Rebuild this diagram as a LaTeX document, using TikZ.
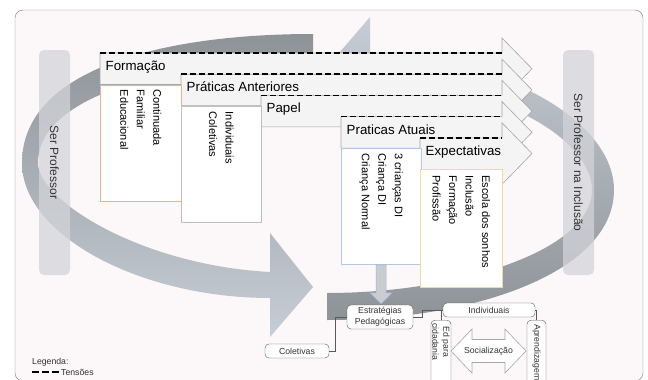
\documentclass[tikz,border=0pt]{standalone}
\usepackage{fontspec}
\setmainfont{Liberation Sans}
\usetikzlibrary{calc}

\definecolor{framefill}{HTML}{FCF7F8}
\definecolor{framegray}{HTML}{7F7F7F}
\definecolor{ringdark}{HTML}{8E9398}
\definecolor{ringmid}{HTML}{B2B8C0}
\definecolor{ringblue}{HTML}{C6CDD6}
\definecolor{sidegray}{HTML}{D3D4D8}
\definecolor{sidetext}{HTML}{333333}
\definecolor{arrowfill}{HTML}{F4F4F4}
\definecolor{arrowline}{HTML}{A6A6A6}
\definecolor{salmon}{HTML}{F4B183}
\definecolor{bodygray}{HTML}{BFBFBF}
\definecolor{bodyblue}{HTML}{B4C7E7}
\definecolor{bodytan}{HTML}{EFDAA4}
\definecolor{downfill}{HTML}{C9CDD2}
\definecolor{downline}{HTML}{9CB3D9}
\definecolor{linkgray}{HTML}{5A5A5A}

\begin{document}
\begin{tikzpicture}
    [x=1pt,y=-1pt,
     tensline/.style={black,line width=1.6pt,dash pattern=on 6pt off 3pt},
     stackarrow/.style={fill=arrowfill,draw=arrowline,line width=0.6pt},
     headtext/.style={anchor=base west,inner sep=0pt,font=\fontsize{13.3}{16}\selectfont},
     bodybox/.style={fill=white,line width=0.8pt,anchor=north west,inner sep=0pt},
     bodytext/.style={rotate=-90,anchor=west,align=left,inner sep=0pt,font=\fontsize{11}{16.5}\selectfont},
     sidebox/.style={rounded corners=5pt,fill=sidegray,fill opacity=0.75,text opacity=1,rotate=-90,
       minimum width=225pt,minimum height=31pt,font=\fontsize{12}{14}\selectfont,text=sidetext},
     smallbox/.style={draw=linkgray,fill=white,rounded corners=4pt,inner sep=0pt,align=center,
       text=black!80,font=\fontsize{8.7}{11}\selectfont},
     smalltext/.style={inner sep=0pt,text=black!80,font=\fontsize{8.7}{11}\selectfont},
     link/.style={draw=linkgray,line width=0.8pt}]
    \useasboundingbox (0,0) rectangle (648,380);
    \clip (0,0) rectangle (648,380);
    \draw[draw=framegray,fill=framefill,rounded corners=8pt] (15,10) rectangle (643,381);
    \shade[top color=ringdark,middle color=ringmid,bottom color=ringblue]
      (313,34) .. controls (160,34) and (22,70) .. (22,163)
      .. controls (22,235) and (140,298) .. (270,298)
      -- (270,337) -- (313,287) -- (270,233) -- (270,272)
      .. controls (140,265) and (38,200) .. (38,163)
      .. controls (38,95) and (170,61) .. (313,61) -- cycle;
    \shade[top color=ringblue,middle color=ringmid,bottom color=ringdark]
      (327,320) .. controls (480,320) and (614,270) .. (614,190)
      .. controls (614,120) and (500,56) .. (370,56)
      -- (370,17) -- (327,67) -- (370,121) -- (370,82)
      .. controls (500,82) and (592,140) .. (592,190)
      .. controls (592,250) and (460,293) .. (327,293) -- cycle;
    \node[sidebox] (serprof) at (54.5,162.5) {Ser Professor};
    \node[sidebox] (serincl) at (578.5,162.5) {Ser Professor na Inclusão};
    \foreach \x/\t/\lab/\nm in {100/53/Formação/form,181/74.2/Práticas Anteriores/prant,
        261/95.4/Papel/papel,341/116.6/Praticas Atuais/pratat,420/137.8/Expectativas/expec}{
      \draw[stackarrow] (\x,\t) -- (502,\t) -- (502,\t-15) -- (532,\t+15.75) -- (502,\t+46.5)
        -- (502,\t+31.5) -- (\x,\t+31.5) -- cycle;
      \draw[tensline] (\x,\t) -- (502,\t);
      \node[headtext] (\nm) at (\x+5.5,\t+17.5) {\lab};
    }
    \node[bodybox,draw=salmon,minimum width=81pt,minimum height=116.5pt] (formbody) at (100,84.5) {};
    \node[bodytext] (formtext) at ([yshift=-5pt]formbody.north) {Continuada\\Familiar\\Educacional};
    \node[bodybox,draw=bodygray,minimum width=80pt,minimum height=116pt] (prantbody) at (181,105.7) {};
    \node[bodytext] (pranttext) at ([yshift=-6pt]prantbody.north) {Individuais\\Coletivas};
    \node[bodybox,draw=bodyblue,minimum width=79.5pt,minimum height=116pt] (pratatbody) at (341,148.1) {};
    \node[bodytext] (pratattext) at ([yshift=-5pt]pratatbody.north) {3 crianças DI\\Criança DI\\Criança Normal};
    \node[bodybox,draw=bodytan,minimum width=82pt,minimum height=117.5pt] (expecbody) at (420,169.3) {};
    \node[bodytext] (expectext) at ([yshift=-6pt]expecbody.north) {Escola dos sonhos\\Inclusão\\Formação\\Profissão};
    \draw[fill=downfill,draw=downline,line width=0.6pt] ([xshift=-5pt]pratatbody.south) -- ++(10,0) -- ++(0,28)
      -- ++(6,0) -- ++(-11,11) -- ++(-11,-11) -- ++(6,0) -- cycle;
    \node[smallbox,minimum width=66pt,minimum height=24pt] (strat) at (380,317) {Estratégias\\Pedagógicas};
    \node[smallbox,minimum width=64pt,minimum height=14pt] (colet) at (297,351) {Coletivas};
    \node[smallbox,minimum width=92pt,minimum height=14pt] (indiv) at (489,310) {Individuais};
    \node[smallbox,minimum width=20pt,minimum height=72pt,anchor=north] (edbox) at (441,320) {};
    \node[smalltext,rotate=-90,anchor=west,align=center] (edtext) at ([yshift=-3pt]edbox.north) {Ed para\\cidadania};
    \node[smallbox,minimum width=19pt,minimum height=72pt,anchor=north] (aprbox) at (536.5,320) {};
    \node[smalltext,rotate=-90,anchor=west] (aprtext) at ([yshift=-4pt]aprbox.north) {Aprendizagem};
    \draw[fill=white,draw=arrowline,line width=0.6pt] (451,351) -- (472,329) -- (472,339.5) -- (505,339.5)
      -- (505,329) -- (526,351) -- (505,373) -- (505,362.5) -- (472,362.5) -- (472,373) -- cycle;
    \node[smalltext] (social) at (488.5,351) {Socialização};
    \draw[link] (colet.east) -- ++(6,0) |- (strat.west);
    \draw[link] (strat.east) -- ++(9,0) |- (indiv.west);
    \draw[link] (indiv.west) -| (edbox.north);
    \draw[link] (indiv.east) -| (aprbox.north);
    \node[smalltext,anchor=west] (legend) at (32,362) {Legenda:};
    \coordinate (legline) at (32,372);
    \node[smalltext,anchor=west] (tens) at (61,372) {Tensões};
    \draw[tensline,line width=1.4pt,dash pattern=on 7pt off 3pt] (legline) -- ([xshift=-2pt]tens.west);
  \end{tikzpicture}
\end{document}
